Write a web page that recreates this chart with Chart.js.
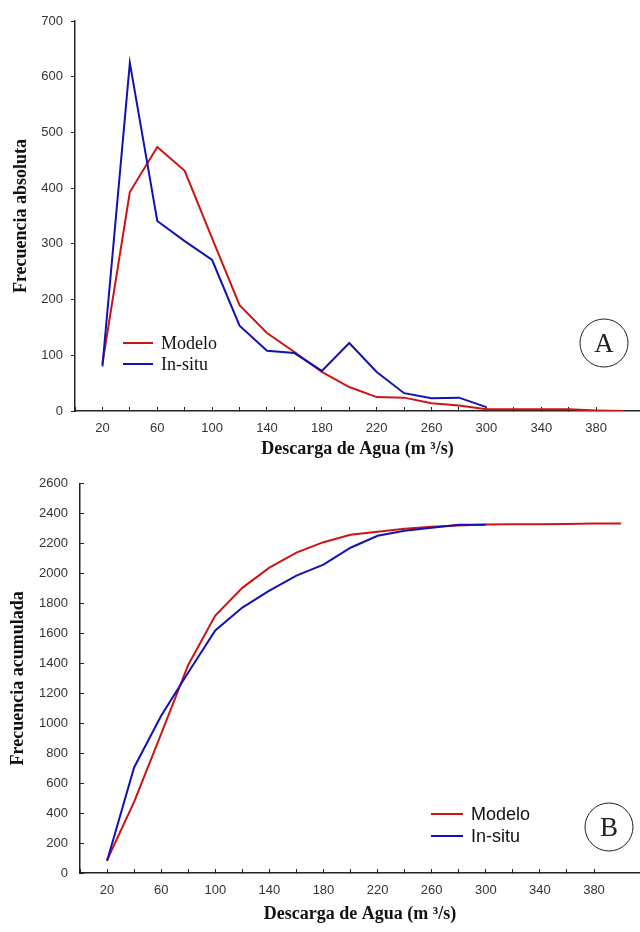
<!DOCTYPE html>
<html>
<head>
<meta charset="utf-8">
<script src="https://cdn.jsdelivr.net/npm/chart.js@4.4.1/dist/chart.umd.min.js"></script>
<style>
  html, body { margin: 0; padding: 0; background: #fff; }
  canvas { position: absolute; left: 0; }
  #chartA { top: 0; }
  #chartB { top: 460px; }
</style>
</head>
<body>
<canvas id="chartA" width="640" height="460"></canvas>
<canvas id="chartB" width="640" height="472"></canvas>
<script>
// Discharge classes (m3/s)
const descarga = [20, 40, 60, 80, 100, 120, 140, 160, 180, 200, 220, 240, 260, 280, 300, 320, 340, 360, 380, 400];
const descargaInSitu = [20, 40, 60, 80, 100, 120, 140, 160, 180, 200, 220, 240, 260, 280, 300];
const xTickLabels = [20, 60, 100, 140, 180, 220, 260, 300, 340, 380];

// A - absolute frequency
const modeloAbs = [85, 393, 474, 431, 310, 190, 140, 106, 70, 43, 25, 24, 14, 10, 3, 3, 3, 3, 1, 0];
const inSituAbs = [80, 625, 341, 305, 271, 153, 108, 104, 72, 122, 70, 32, 23, 24, 7];

// B - cumulative frequency
const modeloAcum = [85, 475, 930, 1390, 1720, 1905, 2040, 2140, 2210, 2260, 2280, 2300, 2313, 2322, 2328, 2330, 2330, 2332, 2335, 2335];
const inSituAcum = [80, 705, 1050, 1340, 1620, 1773, 1887, 1987, 2060, 2173, 2253, 2287, 2307, 2327, 2327];

const RED = '#cc1414';
const BLUE = '#1212b4';
const SERIF = "'Liberation Serif', 'Times New Roman', serif";
const SANS = "'Liberation Sans', Arial, sans-serif";

function toPoints(xs, ys) {
  return ys.map((y, i) => ({ x: xs[i], y: y }));
}

// legend inside the plot + circled panel letter
const panelDecor = {
  id: 'panelDecor',
  afterDatasetsDraw(chart, args, opts) {
    const ctx = chart.ctx;
    ctx.save();
    ctx.textBaseline = 'middle';
    ctx.textAlign = 'left';
    ctx.font = opts.legendFont;
    ctx.lineWidth = 2;
    chart.data.datasets.forEach((ds, i) => {
      const y = opts.legendY + i * opts.legendGap;
      ctx.strokeStyle = ds.borderColor;
      ctx.beginPath();
      ctx.moveTo(opts.legendX, y);
      ctx.lineTo(opts.legendX + opts.legendLine, y);
      ctx.stroke();
      ctx.fillStyle = '#111';
      ctx.fillText(ds.label, opts.legendX + opts.legendLine + 8, y + 1);
    });
    // circled letter
    ctx.lineWidth = 1;
    ctx.strokeStyle = '#222';
    ctx.beginPath();
    ctx.arc(opts.circleX, opts.circleY, opts.circleR, 0, Math.PI * 2);
    ctx.stroke();
    ctx.fillStyle = '#222';
    ctx.textAlign = 'center';
    ctx.font = '27px ' + SERIF;
    ctx.fillText(opts.letter, opts.circleX, opts.circleY + 2);
    ctx.restore();
  }
};

function makeChart(canvasId, modelo, inSitu, cfg) {
  return new Chart(document.getElementById(canvasId), {
    type: 'line',
    data: {
      datasets: [
        {
          label: 'Modelo',
          data: toPoints(descarga, modelo),
          borderColor: RED,
          borderWidth: 2,
          pointRadius: 0,
          tension: 0,
          order: 1
        },
        {
          label: 'In-situ',
          data: toPoints(descargaInSitu, inSitu),
          borderColor: BLUE,
          borderWidth: 2,
          pointRadius: 0,
          tension: 0,
          order: 0
        }
      ]
    },
    plugins: [panelDecor],
    options: {
      responsive: false,
      animation: false,
      layout: { padding: { top: cfg.padTop, right: 0, left: 0, bottom: 0 } },
      plugins: {
        legend: { display: false },
        tooltip: { enabled: false },
        panelDecor: cfg.decor
      },
      scales: {
        x: {
          type: 'linear',
          min: 0,
          max: cfg.xMax,
          afterBuildTicks: (scale) => {
            scale.ticks = scale.ticks.filter(t => t.value % 20 === 0);
          },
          afterFit: (scale) => { scale.height = cfg.xHeight; },
          border: { color: '#222', width: 1.5 },
          grid: { drawOnChartArea: false, tickLength: -4, color: '#222', tickWidth: 1 },
          ticks: {
            stepSize: 20,
            autoSkip: false,
            maxRotation: 0,
            padding: 14,
            color: '#333',
            font: { family: SANS, size: 13 },
            callback: (v) => xTickLabels.includes(v) ? String(v) : ''
          },
          title: {
            display: true,
            text: 'Descarga de Agua (m ³/s)',
            color: '#111',
            font: { family: SERIF, size: 18, weight: 'bold' },
            padding: { top: 0, bottom: cfg.xTitlePad }
          }
        },
        y: {
          min: 0,
          max: cfg.yMax,
          afterFit: (scale) => { scale.width = cfg.yWidth; },
          border: { color: '#222', width: 1.5 },
          grid: { drawOnChartArea: false, tickLength: cfg.yTick, color: '#222' },
          ticks: {
            stepSize: cfg.yStep,
            padding: cfg.yLabelPad,
            color: '#333',
            font: { family: SANS, size: 13 },
            callback: (v) => String(v)
          },
          title: {
            display: true,
            text: cfg.yTitle,
            color: '#111',
            font: { family: SERIF, size: 18, weight: 'bold' },
            padding: { top: cfg.yTitlePad, bottom: 0 }
          }
        }
      }
    }
  });
}

makeChart('chartA', modeloAbs, inSituAbs, {
  padTop: 21, xMax: 412, xHeight: 49, xTitlePad: 0,
  yMax: 700, yStep: 100, yWidth: 75, yTick: 4, yLabelPad: 8, yTitlePad: 11,
  yTitle: 'Frecuencia absoluta',
  decor: {
    legendFont: '18px ' + SERIF, legendX: 123, legendY: 343, legendGap: 21, legendLine: 30,
    circleX: 604, circleY: 343, circleR: 24, letter: 'A'
  }
});

makeChart('chartB', modeloAcum, inSituAcum, {
  padTop: 23, xMax: 414, xHeight: 59, xTitlePad: 7,
  yMax: 2600, yStep: 200, yWidth: 80, yTick: -4, yLabelPad: 16, yTitlePad: 8,
  yTitle: 'Frecuencia acumulada',
  decor: {
    legendFont: '18px ' + SANS, legendX: 431, legendY: 354, legendGap: 22, legendLine: 32,
    circleX: 609, circleY: 367, circleR: 24, letter: 'B'
  }
});
</script>
</body>
</html>
